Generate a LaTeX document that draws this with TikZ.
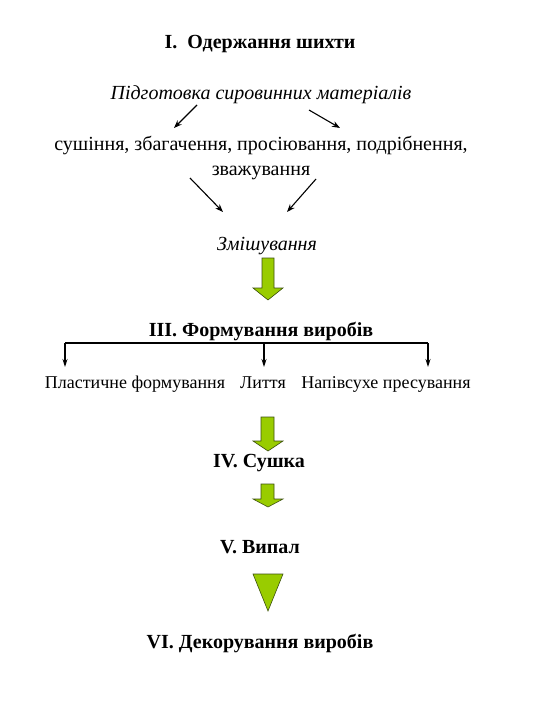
\documentclass[tikz,border=0pt]{standalone}
\usepackage{fontspec}
\setmainfont{Liberation Serif}
\usetikzlibrary{arrows.meta}
\definecolor{lime}{RGB}{153,204,0}
\definecolor{limeedge}{RGB}{60,80,15}
\tikzset{
  ttl/.style={font=\fontsize{20}{24}\selectfont\bfseries, inner sep=0pt, anchor=base},
  ital/.style={font=\fontsize{20}{24}\selectfont\itshape, inner sep=0pt, anchor=base},
  body/.style={font=\fontsize{20}{24}\selectfont, inner sep=0pt, anchor=base},
  lab/.style={font=\fontsize{18}{21}\selectfont, inner sep=0pt, anchor=base},
  thin arrow/.style={-{Stealth[length=8pt,width=6pt]}, line width=1.1pt},
  branch/.style={-{Stealth[length=8pt,width=5pt]}, line width=1.1pt},
  blockarrow/.style={fill=lime, draw=limeedge, line width=0.6pt, line join=miter},
}
\begin{document}
\begin{tikzpicture}[x=1pt,y=-1pt]
\useasboundingbox (0,0) rectangle (540,720);
% texts
\node[ttl]  (t1) at (260,48) {I.\ \ Одержання шихти};
\node[ital] (prep) at (261,99) {Підготовка сировинних матеріалів};
\node[body] (ops1) at (261,150) {сушіння, збагачення, просіювання, подрібнення,};
\node[body] (ops2) at (261,175) {зважування};
\node[ital] (mix) at (267,250) {Змішування};
\node[ttl]  (t3) at (261,336) {III. Формування виробів};
\node[lab]  (f1) at (135,388) {Пластичне формування};
\node[lab]  (f2) at (263,388) {Лиття};
\node[lab]  (f3) at (386,388) {Напівсухе пресування};
\node[ttl]  (t4) at (259,467) {IV. Сушка};
\node[ttl]  (t5) at (260,553) {V. Випал};
\node[ttl]  (t6) at (260,648) {VI. Декорування виробів};
% thin arrows
\coordinate (a1s) at (197,105); \coordinate (a1e) at (174,128);
\coordinate (a2s) at (309,110); \coordinate (a2e) at (340,128);
\coordinate (a3s) at (190,178); \coordinate (a3e) at (223,212);
\coordinate (a4s) at (316,179); \coordinate (a4e) at (287,212);
\draw[thin arrow] (a1s) -- (a1e);
\draw[thin arrow] (a2s) -- (a2e);
\draw[thin arrow] (a3s) -- (a3e);
\draw[thin arrow] (a4s) -- (a4e);
% branch
\coordinate (bl) at (65,343); \coordinate (bm) at (264,343); \coordinate (br) at (428,343);
\coordinate (el) at (65,367); \coordinate (em) at (264,367); \coordinate (er) at (428,367);
\draw[line width=1.1pt] (bl) -- (br);
\draw[branch] (bl) -- (el);
\draw[branch] (bm) -- (em);
\draw[branch] (br) -- (er);
% green block arrows
\draw[blockarrow] (262,258) -- (274,258) -- (274,288) -- (283,288) -- (268,300) -- (253,288) -- (262,288) -- cycle;
\draw[blockarrow] (261,417) -- (274,417) -- (274,441) -- (283,441) -- (268,451) -- (253,441) -- (261,441) -- cycle;
\draw[blockarrow] (261,484) -- (274,484) -- (274,499) -- (283,499) -- (268,507) -- (253,499) -- (261,499) -- cycle;
\draw[blockarrow] (253,574) -- (283,574) -- (268,611) -- cycle;
\end{tikzpicture}
\end{document}
